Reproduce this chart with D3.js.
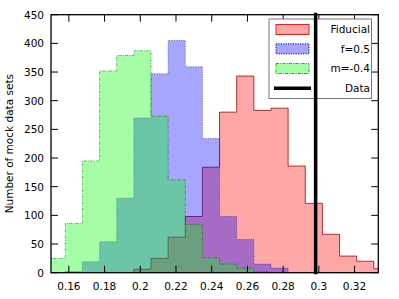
<!DOCTYPE html>
<html>
<head>
<meta charset="utf-8">
<script src="https://cdn.jsdelivr.net/npm/d3@7"></script>
<style>
  body { margin: 0; background: #fff; }
  svg text { font-family: "DejaVu Sans", sans-serif; }
</style>
</head>
<body>
<svg id="chart" width="399" height="299"></svg>
<script>
// shared bin edges of the three histograms
var binEdges = [0.1484, 0.1580, 0.1676, 0.1772, 0.1868, 0.1964, 0.2060, 0.2156, 0.2252, 0.2348,
	0.2444, 0.2540, 0.2636, 0.2732, 0.2828, 0.2924, 0.3020, 0.3116, 0.3212, 0.3308, 0.3404];

// counts per bin (0 = empty)
var fiducial = [0, 0, 0, 0, 0, 6, 25, 62, 98, 184, 280, 343, 283, 287, 186, 121, 67, 29, 20, 7];
var fHalf = [0, 2, 19, 54, 130, 270, 347, 405, 359, 234, 98, 58, 15, 8, 0, 0, 0, 0, 0, 0];
var mNeg = [25, 86, 195, 352, 379, 387, 273, 162, 84, 26, 15, 8, 2, 0, 0, 0, 0, 0, 0, 0];

var dataValue = 0.2982;

var xTicks = [0.16, 0.18, 0.2, 0.22, 0.24, 0.26, 0.28, 0.3, 0.32];
var yTicks = [0, 50, 100, 150, 200, 250, 300, 350, 400, 450];

var series = [
	{ name: 'Fiducial', counts: fiducial, fill: '#ff0000', stroke: '#8b0000', strokeOp: 0.75, legendStroke: '#e02020', dash: null },
	{ name: 'f=0.5', counts: fHalf, fill: '#0000ff', stroke: '#000080', strokeOp: 0.45, legendStroke: '#0000ff', dash: '1.2,1.2' },
	{ name: 'm=-0.4', counts: mNeg, fill: '#00ff00', stroke: '#007000', strokeOp: 0.5, legendStroke: '#00c000', dash: '3,1.2,1,1.2' }
];

var pLeft = 51, pRight = 378.3, pTop = 14.7, pBottom = 272.7;

var x = d3.scaleLinear().domain([0.15, 0.3333]).range([pLeft, pRight]);
var y = d3.scaleLinear().domain([0, 450]).range([pBottom, pTop]);

var svg = d3.select('#chart');

svg.append('clipPath').attr('id', 'plotclip')
	.append('rect')
	.attr('x', pLeft).attr('y', pTop)
	.attr('width', pRight - pLeft).attr('height', pBottom - pTop);

var plot = svg.append('g').attr('clip-path', 'url(#plotclip)');

var line = d3.line()
	.x(function(d) { return x(d[0]); })
	.y(function(d) { return y(d[1]); });

function stepPoints(counts) {
	var first = counts.findIndex(function(c) { return c > 0; });
	var last = counts.length - 1;
	while (counts[last] === 0) last--;
	var pts = [[binEdges[first], 0]];
	for (var i = first; i <= last; i++) {
		pts.push([binEdges[i], counts[i]]);
		pts.push([binEdges[i + 1], counts[i]]);
	}
	pts.push([binEdges[last + 1], 0]);
	return pts;
}

series.forEach(function(s) {
	plot.append('path')
		.attr('d', line(stepPoints(s.counts)) + 'Z')
		.style('fill', s.fill)
		.style('fill-opacity', 0.35)
		.style('stroke', s.stroke)
		.style('stroke-opacity', s.strokeOp)
		.style('stroke-width', 1)
		.style('stroke-dasharray', s.dash);
});

// frame
svg.append('rect')
	.attr('x', pLeft).attr('y', pTop)
	.attr('width', pRight - pLeft).attr('height', pBottom - pTop)
	.style('fill', 'none').style('stroke', '#000').style('stroke-width', 1.3);

var tickLen = 7;
var axes = svg.append('g').style('stroke', '#000').style('stroke-width', 1);

xTicks.forEach(function(t) {
	axes.append('line').attr('x1', x(t)).attr('x2', x(t)).attr('y1', pBottom).attr('y2', pBottom - tickLen);
	axes.append('line').attr('x1', x(t)).attr('x2', x(t)).attr('y1', pTop).attr('y2', pTop + tickLen);
	svg.append('text')
		.attr('x', x(t)).attr('y', pBottom + 17.5)
		.attr('text-anchor', 'middle')
		.style('font-size', '10.5px')
		.text(String(+t.toFixed(2)));
});

yTicks.forEach(function(t) {
	axes.append('line').attr('x1', pLeft).attr('x2', pLeft + tickLen).attr('y1', y(t)).attr('y2', y(t));
	axes.append('line').attr('x1', pRight).attr('x2', pRight - tickLen).attr('y1', y(t)).attr('y2', y(t));
	svg.append('text')
		.attr('x', pLeft - 7).attr('y', y(t) + 3.8)
		.attr('text-anchor', 'end')
		.style('font-size', '10.5px')
		.text(t);
});

svg.append('text')
	.attr('transform', 'translate(13,' + ((pTop + pBottom) / 2) + ') rotate(-90)')
	.attr('text-anchor', 'middle')
	.style('font-size', '10.5px')
	.text('Number of mock data sets');

// legend
var legend = svg.append('g');
legend.append('rect')
	.attr('x', 269).attr('y', 19).attr('width', 102.5).attr('height', 79.5)
	.style('fill', '#fff').style('stroke', '#777').style('stroke-width', 1);

var rowY = [29.5, 48.8, 68.5, 88.2];
series.forEach(function(s, i) {
	legend.append('rect')
		.attr('x', 276).attr('y', rowY[i] - 5).attr('width', 33).attr('height', 10)
		.style('fill', s.fill).style('fill-opacity', 0.35)
		.style('stroke', s.legendStroke).style('stroke-width', 1)
		.style('stroke-dasharray', s.dash);
	legend.append('text')
		.attr('x', 370).attr('y', rowY[i] + 3.8)
		.attr('text-anchor', 'end')
		.style('font-size', '10.5px')
		.text(s.name);
});
legend.append('line')
	.attr('x1', 274).attr('x2', 311).attr('y1', rowY[3]).attr('y2', rowY[3])
	.style('stroke', '#000').style('stroke-width', 3.5);
legend.append('text')
	.attr('x', 370).attr('y', rowY[3] + 3.8)
	.attr('text-anchor', 'end')
	.style('font-size', '10.5px')
	.text('Data');

// observed value
svg.append('line')
	.attr('x1', x(dataValue)).attr('x2', x(dataValue))
	.attr('y1', y(450) - 2).attr('y2', y(0) + 1.5)
	.style('stroke', '#000').style('stroke-width', 3.5);
</script>
</body>
</html>
